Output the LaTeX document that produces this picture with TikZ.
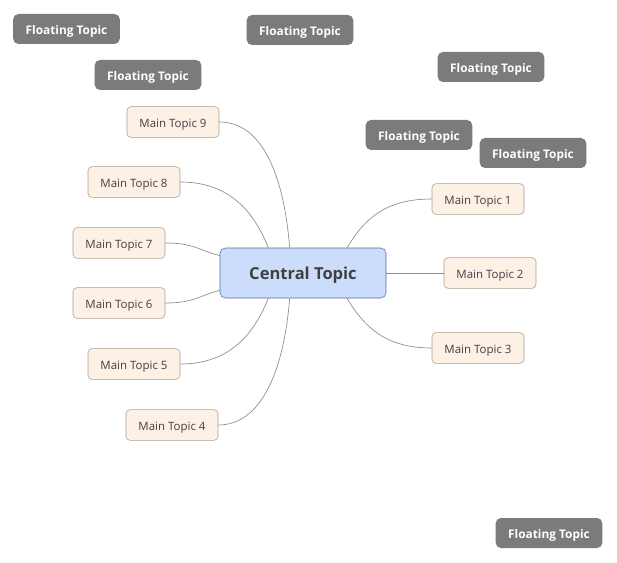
\documentclass[tikz,border=0pt]{standalone}
\usepackage{fontspec}
\setmainfont{Open Sans}

\definecolor{centralfill}{HTML}{CCDDFB}
\definecolor{centraldraw}{HTML}{4F6B9E}
\definecolor{mainfill}{HTML}{FDF1E6}
\definecolor{maindraw}{HTML}{A89C90}
\definecolor{floatfill}{HTML}{7B7B7B}
\definecolor{textgray}{HTML}{404040}
\definecolor{linkgray}{HTML}{8C8C8C}

\begin{document}
\begin{tikzpicture}[x=0.75pt,y=-0.75pt,
central/.style = {draw=centraldraw, fill=centralfill, rounded corners=4pt,
        minimum width=124.5pt, minimum height=37.5pt, text=textgray,
        text height=0.95em, text depth=0pt,
        font=\fontsize{12.4}{15}\selectfont\bfseries},
maintopic/.style = {draw=maindraw, fill=mainfill, rounded corners=3pt,
        minimum width=69pt, minimum height=23pt, text=textgray,
        text height=0.8em, text depth=0pt,
        font=\fontsize{8.6}{10}\selectfont},
floating/.style = {fill=floatfill, rounded corners=4pt,
        minimum width=80pt, minimum height=22.5pt, text=white,
        text height=0.8em, text depth=0pt,
        font=\fontsize{8.9}{10}\selectfont\bfseries},
link/.style = {draw=linkgray, line width=0.5pt}]

        \useasboundingbox (0,0) rectangle (617,563);

        % central topic
        \node [central] (ct) at (303,273) {Central Topic};

        % main topics, right side
        \node [maintopic] (mt1) at (478,199) {Main Topic 1};
        \node [maintopic] (mt2) at (490,273) {Main Topic 2};
        \node [maintopic] (mt3) at (478,348) {Main Topic 3};

        % main topics, left side
        \node [maintopic] (mt4) at (172,425) {Main Topic 4};
        \node [maintopic] (mt5) at (134,364) {Main Topic 5};
        \node [maintopic] (mt6) at (119,303) {Main Topic 6};
        \node [maintopic] (mt7) at (119,243) {Main Topic 7};
        \node [maintopic] (mt8) at (134,182) {Main Topic 8};
        \node [maintopic] (mt9) at (173,122) {Main Topic 9};

        % floating topics
        \node [floating] (ft1) at (66.5,29) {Floating Topic};
        \node [floating] (ft2) at (300,30) {Floating Topic};
        \node [floating] (ft3) at (148,75) {Floating Topic};
        \node [floating] (ft4) at (491,67) {Floating Topic};
        \node [floating] (ft5) at (419,135) {Floating Topic};
        \node [floating] (ft6) at (533,153) {Floating Topic};
        \node [floating] (ft7) at (549,533) {Floating Topic};

        % links
        \path[link] (mt1.west) .. controls +(-45,0) and +(18,-30) .. ([xshift=33pt]ct.north);
        \path[link] (ct.east) -- (mt2.west);
        \path[link] (mt3.west) .. controls +(-45,0) and +(18,30) .. ([xshift=33pt]ct.south);
        \path[link] (mt9.east) .. controls +(42,0) and +(-6,-75) .. ([xshift=-10pt]ct.north);
        \path[link] (mt8.east) .. controls +(50,0) and +(-14,-35) .. ([xshift=-26pt]ct.north);
        \path[link] (mt7.east) .. controls +(28,0) and +(-22,-6) .. ([yshift=13pt]ct.west);
        \path[link] (mt6.east) .. controls +(28,0) and +(-22,6) .. ([yshift=-13pt]ct.west);
        \path[link] (mt5.east) .. controls +(50,0) and +(-14,35) .. ([xshift=-26pt]ct.south);
        \path[link] (mt4.east) .. controls +(42,0) and +(-6,75) .. ([xshift=-10pt]ct.south);

\end{tikzpicture}
\end{document}
